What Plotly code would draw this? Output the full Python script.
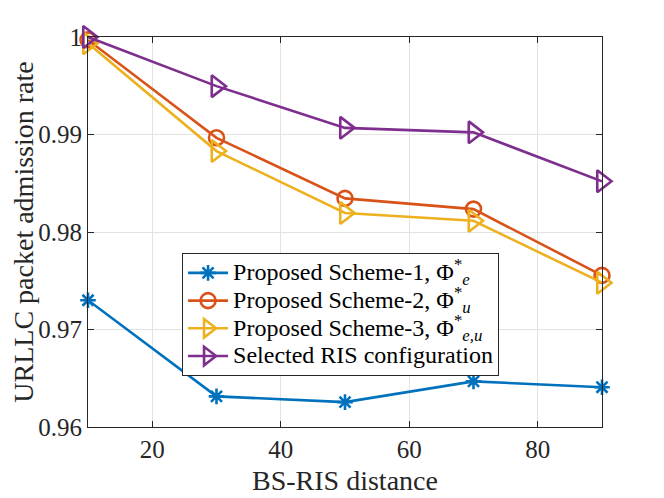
import plotly.graph_objects as go

x = [10, 30, 50, 70, 90]
scheme1 = [0.9730, 0.96314, 0.96255, 0.96468, 0.96408]
scheme2 = [0.99970, 0.98966, 0.98345, 0.98235, 0.97555]
scheme3 = [0.99935, 0.98830, 0.98195, 0.98115, 0.97480]
selected = [1.0000, 0.99496, 0.99068, 0.99022, 0.98520]

names = [
    "Proposed Scheme-1, Φ<sup>*</sup><sub><i>e</i></sub>",
    "Proposed Scheme-2, Φ<sup>*</sup><sub><i>u</i></sub>",
    "Proposed Scheme-3, Φ<sup>*</sup><sub><i>e,u</i></sub>",
    "Selected RIS configuration",
]
colors = ["#0072BD", "#D95319", "#EDB120", "#7E2F8E"]
symbols = ["asterisk-open", "circle-open", "triangle-right-open", "triangle-right-open"]
sizes = [13, 15, 19, 19]
series = [scheme1, scheme2, scheme3, selected]

yticks = [0.96, 0.97, 0.98, 0.99, 1.0]
yticktext = ["0.96", "0.97", "0.98", "0.99", "1"]
xticks = [20, 40, 60, 80]

FONT = "Liberation Serif"

fig = go.Figure()
for ys, n, c, s, sz in zip(series, names, colors, symbols, sizes):
    fig.add_trace(go.Scatter(
        x=x, y=ys, name='<span style="font-size:24px">' + n + '</span>',
        mode="lines+markers",
        line=dict(color=c, width=2.6),
        marker=dict(symbol=s, size=sz, color=c, line=dict(color=c, width=2.6)),
        cliponaxis=False,
    ))

axis_common = dict(
    showline=True, linecolor="#262626", linewidth=1, mirror="ticks",
    ticks="inside", ticklen=6, tickcolor="#262626",
    showgrid=True, gridcolor="#E3E3E3", gridwidth=1, zeroline=False,
    tickfont=dict(family=FONT, size=25, color="#262626"),
    title_font=dict(family=FONT, size=28, color="#262626"),
    automargin=False,
)

fig.update_layout(
    width=656, height=490,
    margin=dict(l=80, r=62, t=29, b=71),
    paper_bgcolor="white", plot_bgcolor="white",
    font=dict(family=FONT, color="#262626"),
    xaxis=dict(range=[10, 90], tickvals=xticks, title=dict(text="BS-RIS distance", standoff=8), **axis_common),
    yaxis=dict(range=[0.96, 1.0], tickvals=yticks, ticktext=yticktext,
               title=dict(text="URLLC packet admission rate", standoff=2), **axis_common),
    legend=dict(
        x=0.183, y=0.446, xanchor="left", yanchor="top",
        bgcolor="white", bordercolor="#262626", borderwidth=1,
        font=dict(family=FONT, size=19, color="#000000"),
        tracegroupgap=0, itemwidth=40,
    ),
)

fig.write_html("out.html")
